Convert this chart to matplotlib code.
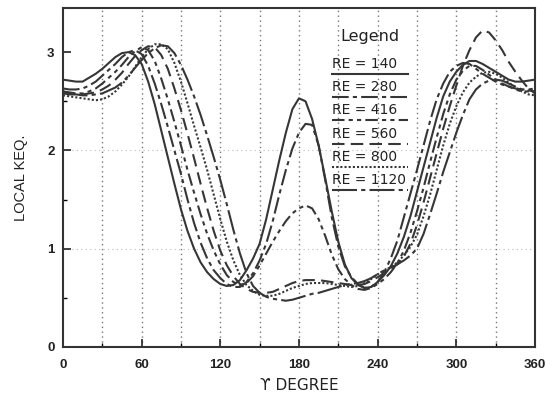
import numpy as np
import matplotlib
matplotlib.use("Agg")
import matplotlib.pyplot as plt
from matplotlib.lines import Line2D

gamma = list(range(0, 361, 5))

re_labels = ["RE = 140", "RE = 280", "RE = 416", "RE = 560", "RE = 800", "RE = 1120"]

keq_140 = [2.72, 2.71, 2.70, 2.70, 2.74, 2.78, 2.83, 2.89, 2.95, 2.99, 3.00, 2.97,
           2.88, 2.70, 2.47, 2.20, 1.93, 1.66, 1.40, 1.18, 1.00, 0.86, 0.76, 0.69,
           0.64, 0.62, 0.63, 0.68, 0.78, 0.90, 1.05, 1.30, 1.60, 1.90, 2.18, 2.42,
           2.53, 2.50, 2.32, 2.05, 1.72, 1.38, 1.07, 0.84, 0.70, 0.63, 0.60, 0.61,
           0.66, 0.73, 0.82, 0.95, 1.12, 1.33, 1.58, 1.83, 2.08, 2.33, 2.55, 2.70,
           2.80, 2.87, 2.91, 2.91, 2.88, 2.84, 2.80, 2.76, 2.72, 2.70, 2.70, 2.71,
           2.72]
keq_280 = [2.63, 2.62, 2.62, 2.63, 2.66, 2.70, 2.76, 2.82, 2.88, 2.95, 3.00, 3.02,
           2.98, 2.86, 2.68, 2.47, 2.24, 2.00, 1.76, 1.50, 1.26, 1.06, 0.90, 0.78,
           0.70, 0.64, 0.61, 0.61, 0.66, 0.75, 0.88, 1.05, 1.28, 1.55, 1.80, 2.02,
           2.18, 2.27, 2.26, 2.05, 1.70, 1.32, 1.02, 0.82, 0.71, 0.64, 0.60, 0.61,
           0.66, 0.76, 0.90, 1.08, 1.32, 1.56, 1.80, 2.05, 2.30, 2.52, 2.68, 2.80,
           2.86, 2.89, 2.88, 2.83, 2.78, 2.74, 2.70, 2.67, 2.65, 2.63, 2.62, 2.62,
           2.63]
keq_416 = [2.60, 2.59, 2.58, 2.58, 2.60, 2.63, 2.68, 2.74, 2.80, 2.87, 2.95, 3.01,
           3.05, 3.02, 2.91, 2.73, 2.52, 2.29, 2.05, 1.80, 1.57, 1.35, 1.15, 0.98,
           0.84, 0.73, 0.66, 0.63, 0.65, 0.72, 0.83, 0.95, 1.07, 1.18, 1.28, 1.36,
           1.41, 1.44, 1.41, 1.30, 1.13, 0.94, 0.79, 0.69, 0.63, 0.59, 0.58, 0.60,
           0.64, 0.69, 0.76, 0.85, 0.98, 1.16, 1.38, 1.62, 1.88, 2.13, 2.37, 2.57,
           2.72, 2.81, 2.86, 2.86, 2.82, 2.77, 2.72, 2.68, 2.65, 2.62, 2.60, 2.60,
           2.60]
keq_560 = [2.58, 2.57, 2.57, 2.57, 2.58, 2.59, 2.62, 2.66, 2.72, 2.79, 2.88, 2.96,
           3.02, 3.06, 3.05, 2.97, 2.83, 2.63, 2.41, 2.17, 1.92, 1.66, 1.41, 1.18,
           0.98, 0.83, 0.72, 0.64, 0.59, 0.56, 0.55, 0.55, 0.56, 0.59, 0.62, 0.65,
           0.67, 0.68, 0.68, 0.68, 0.67, 0.66, 0.65, 0.64, 0.63, 0.63, 0.64, 0.67,
           0.71, 0.75, 0.79, 0.84, 0.92, 1.05, 1.24, 1.47, 1.72, 1.97, 2.22, 2.45,
           2.66, 2.86, 3.02, 3.15, 3.22, 3.20, 3.12, 3.02, 2.90, 2.80, 2.71, 2.63,
           2.58]
keq_800 = [2.56, 2.55, 2.54, 2.53, 2.52, 2.51, 2.52, 2.55, 2.60, 2.67, 2.75, 2.85,
           2.95, 3.03, 3.08, 3.08, 3.03, 2.89, 2.70, 2.48, 2.25, 2.03, 1.80, 1.55,
           1.30, 1.07, 0.88, 0.73, 0.63, 0.57, 0.53, 0.52, 0.52, 0.54, 0.57, 0.60,
           0.62, 0.64, 0.65, 0.65, 0.65, 0.64, 0.63, 0.62, 0.61, 0.62, 0.65, 0.69,
           0.74, 0.77, 0.81, 0.86, 0.93, 1.02, 1.14, 1.33, 1.55, 1.80, 2.05, 2.27,
           2.45, 2.59, 2.69, 2.75, 2.79, 2.80, 2.78, 2.74, 2.69, 2.64, 2.60, 2.57,
           2.56]
keq_1120 = [2.60, 2.58, 2.57, 2.56, 2.56, 2.57, 2.58, 2.61, 2.64, 2.69, 2.76, 2.84,
            2.92, 2.99, 3.04, 3.07, 3.06, 2.99, 2.87, 2.72, 2.55, 2.36, 2.15, 1.93,
            1.70, 1.45, 1.19, 0.95, 0.75, 0.62, 0.55, 0.51, 0.49, 0.48, 0.47, 0.48,
            0.50, 0.52, 0.54, 0.55, 0.57, 0.59, 0.61, 0.63, 0.64, 0.65, 0.67, 0.70,
            0.74, 0.78, 0.81, 0.84, 0.88, 0.93, 1.00, 1.15, 1.35, 1.56, 1.78, 1.98,
            2.18, 2.36, 2.52, 2.62, 2.68, 2.71, 2.72, 2.71, 2.68, 2.65, 2.62, 2.61,
            2.60]

series = [keq_140, keq_280, keq_416, keq_560, keq_800, keq_1120]
styles = ["-", (0, (8, 2, 2, 2)), (0, (6, 2, 2, 2, 2, 2)), (0, (6, 3)), (0, (1, 1)),
          (0, (12, 2, 2, 2))]

xticks = [0, 60, 120, 180, 240, 300, 360]
yticks = [0, 1, 2, 3]

plt.rcParams['font.family'] = ['Liberation Sans', 'DejaVu Sans']

fig = plt.figure(figsize=(5.57, 3.96), dpi=100)
ax = fig.add_axes([0.113, 0.124, 0.8475, 0.856])

ink = "#363636"
for vals, ls in zip(series, styles):
    ax.plot(gamma, vals, color=ink, lw=1.5, linestyle=ls)

ax.set_xlim(0, 360)
ax.set_ylim(0, 3.45)
ax.set_xticks(xticks)
ax.set_xticks(range(30, 360, 60), minor=True)
ax.set_yticks(yticks)
ax.set_yticks([0.5, 1.5, 2.5], minor=True)
ax.tick_params(direction="in", length=6, width=1.2, labelsize=9.5, colors="#222222", pad=6)
ax.tick_params(axis="x", pad=9)
ax.tick_params(which="minor", direction="in", length=3, width=1)
for lab in ax.get_xticklabels() + ax.get_yticklabels():
    lab.set_fontweight("bold")

for g in range(30, 360, 30):
    ax.axvline(g, color="#777777", lw=1.0, linestyle=(0, (1, 2.5)), zorder=0)
for yv in [1, 2]:
    ax.axhline(yv, color="#bbbbbb", lw=0.8, linestyle=(0, (1, 3)), zorder=0)

for s in ax.spines.values():
    s.set_linewidth(1.5)
    s.set_color("#333333")

ax.set_ylabel("LOCAL KEQ.", fontsize=10.5, color="#222222", labelpad=14)
ax.set_xlabel("ϒ DEGREE", fontsize=11, color="#222222", labelpad=5,
              family=["DejaVu Sans"])

# manual legend: text with sample line underneath
ax.text(0.65, 0.915, "Legend", transform=ax.transAxes, fontsize=11.5, ha="center",
        va="center", color="#222222", family=["DejaVu Sans"])
y0 = 0.835
dy = 0.0685
for i, (lab, ls) in enumerate(zip(re_labels, styles)):
    yy = y0 - i * dy
    ax.text(0.57, yy, lab, transform=ax.transAxes, fontsize=10, ha="left", va="center",
            color="#222222", family=["DejaVu Sans"])
    ax.add_line(Line2D([0.57, 0.73], [yy - 0.03, yy - 0.03], transform=ax.transAxes,
                       color=ink, lw=1.5, linestyle=ls))

fig.savefig("out.png", dpi=100)
